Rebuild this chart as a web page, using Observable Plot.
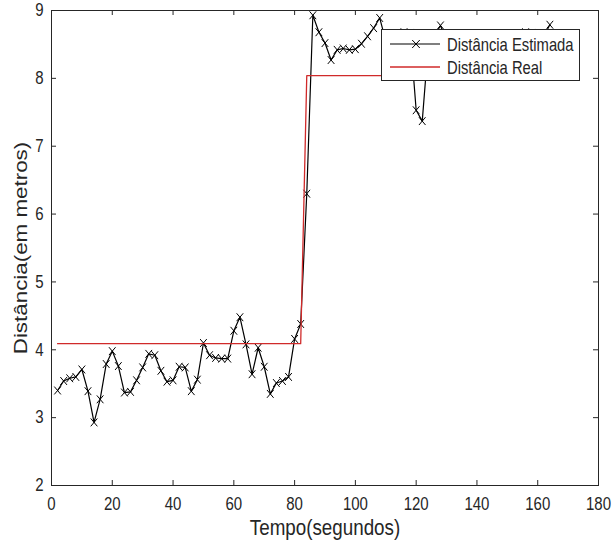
<!DOCTYPE html>
<html>
<head>
<meta charset="utf-8">
<script src="https://cdn.jsdelivr.net/npm/d3@7"></script>
<script src="https://cdn.jsdelivr.net/npm/@observablehq/plot@0.6"></script>
<style>
  html, body { margin: 0; padding: 0; background: white; }
  #wrap { position: relative; width: 614px; height: 547px; }
  #legend { position: absolute; left: 381px; top: 29px; width: 197px; height: 50px;
            border: 1px solid #262626; background: white; }
  #legend text { font-family: 'Liberation Sans', Arial, sans-serif; font-size: 14.8px; fill: #262626; }
</style>
</head>
<body>
<div id="wrap"></div>
<script>
// ---- data ----
const tempo = [2,4,6,8,10,12,14,16,18,20,22,24,26,28,30,32,34,36,38,40,
  42,44,46,48,50,52,54,56,58,60,62,64,66,68,70,72,74,76,78,80,
  82,84,86,88,90,92,94,96,98,100,102,104,106,108,110,112,114,116,118,120,
  122,124,126,128,130,132,134,136,138,140,142,144,146,148,150,152,154,156,158,160,
  162,164];
const distanciaEstimada = [3.40,3.54,3.58,3.60,3.71,3.39,2.93,3.27,3.79,3.98,3.76,3.37,3.38,3.55,3.74,3.94,3.92,3.69,3.53,3.55,
  3.75,3.74,3.39,3.56,4.10,3.92,3.88,3.87,3.87,4.28,4.48,4.08,3.64,4.03,3.75,3.35,3.51,3.54,3.60,4.16,
  4.38,6.30,8.93,8.68,8.52,8.27,8.42,8.44,8.42,8.43,8.51,8.62,8.74,8.89,8.55,8.45,8.60,8.68,8.67,7.53,
  7.37,8.50,8.62,8.78,8.55,8.45,8.50,8.40,8.55,8.50,8.45,8.55,8.60,8.50,8.45,8.55,8.60,8.68,8.67,8.55,
  8.62,8.79];
const tempoReal = [2, 82, 84, 164];
const distanciaReal = [4.09, 4.09, 8.04, 8.04];
const xTicks = [0,20,40,60,80,100,120,140,160,180];
const yTicks = [2,3,4,5,6,7,8,9];
const xLabel = "Tempo(segundos)";
const yLabel = "Distância(em metros)";
const seriesNames = ["Distância Estimada", "Distância Real"];

const estimada = tempo.map((t, i) => ({t, v: distanciaEstimada[i]}));
const real = tempoReal.map((t, i) => ({t, v: distanciaReal[i]}));

const axisColor = "#262626";
const red = "#d02a2a";
const S = 1.19; // vertical stretch of the reference figure

const W = 614, H = 547, mL = 51, mR = 16, mT = 10, mB = 62;
const plotW = W - mL - mR, plotH = H - mT - mB;
const tick = 5;

// MATLAB-like "x" marker, slightly taller than wide
const xMarker = {
  draw(ctx) {
    const w = 3.3, h = 3.3 * S;
    ctx.moveTo(-w, -h); ctx.lineTo(w, h);
    ctx.moveTo(-w, h); ctx.lineTo(w, -h);
  }
};

const chart = Plot.plot({
  width: W, height: H,
  marginLeft: mL, marginRight: mR, marginTop: mT, marginBottom: mB,
  style: {fontFamily: "'Liberation Sans', Arial, sans-serif", fontSize: "15px", color: axisColor, background: "white"},
  x: {domain: [0, 180], label: null},
  y: {domain: [2, 9], label: null},
  marks: [
    Plot.axisX({ticks: xTicks, tickSize: 0, tickPadding: 12, label: null, fill: axisColor, tickFormat: d => String(d)}),
    Plot.axisY({ticks: yTicks, tickSize: 0, tickPadding: 8, label: null, fill: axisColor, tickFormat: d => String(d)}),
    Plot.tickX(xTicks, {x: d => d, insetTop: plotH - tick, stroke: axisColor}),
    Plot.tickX(xTicks, {x: d => d, insetBottom: plotH - tick, stroke: axisColor}),
    Plot.tickY(yTicks, {y: d => d, insetRight: plotW - tick, stroke: axisColor}),
    Plot.tickY(yTicks, {y: d => d, insetLeft: plotW - tick, stroke: axisColor}),
    Plot.text([xLabel], {frameAnchor: "bottom", lineAnchor: "middle", dy: 42, text: d => d, fontSize: 18.8, fill: axisColor}),
    Plot.text([yLabel], {frameAnchor: "left", textAnchor: "middle", lineAnchor: "middle", dx: -31, rotate: -90, text: d => d, fontSize: 18.8, fill: axisColor}),
    Plot.line(estimada, {x: "t", y: "v", stroke: "black", strokeWidth: 1.2}),
    Plot.dot(estimada, {x: "t", y: "v", symbol: xMarker, r: 3.3, stroke: "black", fill: "none", strokeWidth: 1}),
    Plot.line(real, {x: "t", y: "v", stroke: red, strokeWidth: 1.3}),
    Plot.frame({stroke: axisColor, strokeWidth: 1})
  ]
});

// stretch all texts vertically like the reference picture
chart.querySelectorAll("text").forEach(t => {
  const tr = t.getAttribute("transform") || "";
  if (tr.includes("rotate")) t.setAttribute("transform", tr + ` scale(${S},1)`);
  else t.setAttribute("transform", tr + ` scale(1,${S})`);
});

const wrap = document.getElementById("wrap");
wrap.appendChild(chart);

// legend box (MATLAB style, inside the axes)
const legend = document.createElement("div");
legend.id = "legend";
legend.innerHTML = `
<svg width="197" height="50" xmlns="http://www.w3.org/2000/svg">
  <line x1="8" x2="58" y1="14" y2="14" stroke="black" stroke-width="1.2"/>
  <path d="M30.2,10L37.8,18M30.2,18L37.8,10" stroke="black" stroke-width="1" fill="none"/>
  <text transform="translate(65,15) scale(1,${S})" dy="0.35em">${seriesNames[0]}</text>
  <line x1="8" x2="58" y1="37" y2="37" stroke="${red}" stroke-width="1.3"/>
  <text transform="translate(65,38) scale(1,${S})" dy="0.35em">${seriesNames[1]}</text>
</svg>`;
wrap.appendChild(legend);
</script>
</body>
</html>
